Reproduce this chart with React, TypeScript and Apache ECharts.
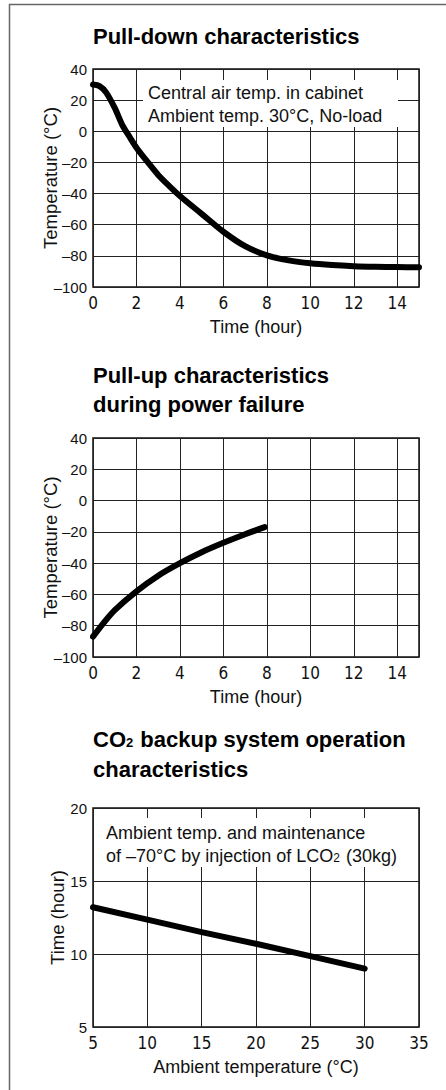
import React, { useEffect, useRef } from "react";
import * as echarts from "echarts";

// Chart 1: pull-down characteristics
const pullDownTime = [0, 0.3, 0.6, 1.0, 1.35, 1.7, 2, 2.5, 3, 3.5, 4, 5, 6, 7, 8, 9, 10, 11, 12, 13, 14, 15];
const pullDownTemp = [30, 29, 25, 15, 4, -4, -10.5, -19.5, -28, -35, -41.5, -53, -64.5, -73.8, -79.7, -82.9, -84.8, -85.9, -86.6, -87, -87.2, -87.3];

// Chart 2: pull-up during power failure
const pullUpTime = [0, 0.5, 1, 2, 3, 4, 5, 6, 7, 7.9];
const pullUpTemp = [-87, -78, -70, -58, -48, -40, -33, -27, -21.5, -17];

// Chart 3: CO2 backup
const ambientTemp = [5, 10, 15, 20, 25, 30];
const holdTime = [13.2, 12.35, 11.5, 10.7, 9.85, 9.0];

const titles = [
  "Pull-down characteristics",
  "Pull-up characteristics\nduring power failure",
  "{b|CO}{s|2}{b| backup system operation}\n{b|characteristics}",
];
const noteLines1 = "Central air temp. in cabinet\nAmbient temp. 30°C, No-load";
const noteLines3 = "Ambient temp. and maintenance\nof –70°C by injection of LCO{s|2} (30kg)";

const REG = '"Liberation Sans", Arial, Helvetica, sans-serif';
const NARROW = '"Liberation Sans Narrow", "DejaVu Sans Condensed", "Liberation Sans", Arial, sans-serif';
const INK = "#111";

const dashFmt = (v: number) => (v < 0 ? "–" + Math.abs(v) : String(v));

function xAxisCfg(gridIndex: number, min: number, max: number, interval: number, name: string) {
  return {
    gridIndex,
    type: "value",
    min,
    max,
    interval,
    name,
    nameLocation: "middle",
    nameGap: 31,
    nameMoveOverlap: false,
    nameTextStyle: { fontFamily: REG, fontSize: 18, color: INK },
    axisLine: { show: false },
    axisTick: { show: false },
    splitLine: { show: true, lineStyle: { color: "#222", width: 1 } },
    axisLabel: {
      margin: 7,
      fontFamily: NARROW,
      fontSize: 17,
      color: INK,
      showMaxLabel: max % interval === 0,
      showMinLabel: true,
    },
  };
}

function yAxisCfg(gridIndex: number, min: number, max: number, interval: number, name: string, gap: number) {
  return {
    gridIndex,
    type: "value",
    min,
    max,
    interval,
    name,
    nameLocation: "middle",
    nameRotate: 90,
    nameGap: gap,
    nameMoveOverlap: false,
    nameTextStyle: { fontFamily: REG, fontSize: 18.5, color: INK },
    axisLine: { show: false },
    axisTick: { show: false },
    splitLine: { show: true, lineStyle: { color: "#222", width: 1 } },
    axisLabel: { margin: 6, fontFamily: REG, fontSize: 15, color: INK, formatter: dashFmt },
  };
}

const gridBase = { left: 93, width: 326, show: true, borderColor: "#111", borderWidth: 1.5, containLabel: false };

export default function App() {
  const ref = useRef<HTMLDivElement>(null);
  useEffect(() => {
    if (!ref.current) return;
    const chart = echarts.init(ref.current, undefined, { renderer: "svg" });
    const lineSeries = (idx: number, xs: number[], ys: number[], smooth: number | boolean) => ({
      type: "line",
      xAxisIndex: idx,
      yAxisIndex: idx,
      data: xs.map((x, i) => [x, ys[i]]),
      smooth,
      showSymbol: false,
      symbol: "none",
      lineStyle: { color: "#000", width: 6, cap: "round", join: "round" },
      z: 5,
    });
    const titleStyle = {
      fontFamily: REG,
      fontWeight: "bold",
      fontSize: 22,
      color: "#000",
      lineHeight: 29,
    };
    chart.setOption({
      animation: false,
      backgroundColor: "#fff",
      title: [
        { text: titles[0], left: 93, top: 25, padding: 0, textStyle: { ...titleStyle, lineHeight: 22 } },
        { text: titles[1], left: 93, top: 361, padding: 0, textStyle: titleStyle },
        {
          text: titles[2],
          left: 93,
          top: 724,
          padding: 0,
          textStyle: {
            ...titleStyle,
            lineHeight: 30,
            rich: {
              b: { fontFamily: REG, fontWeight: "bold", fontSize: 22, color: "#000", lineHeight: 30 },
              s: { fontFamily: REG, fontWeight: "bold", fontSize: 13, color: "#000", lineHeight: 30, padding: [6, 1, 0, 0] },
            },
          },
        },
      ],
      grid: [
        { ...gridBase, top: 69, height: 218 },
        { ...gridBase, top: 438, height: 219 },
        { ...gridBase, top: 808, height: 219 },
      ],
      xAxis: [
        xAxisCfg(0, 0, 15, 2, "Time (hour)"),
        xAxisCfg(1, 0, 15, 2, "Time (hour)"),
        xAxisCfg(2, 5, 35, 5, "Ambient temperature (°C)"),
      ],
      yAxis: [
        yAxisCfg(0, -100, 40, 20, "Temperature (°C)", 33),
        yAxisCfg(1, -100, 40, 20, "Temperature (°C)", 33),
        yAxisCfg(2, 5, 20, 5, "Time (hour)", 26),
      ],
      series: [
        lineSeries(0, pullDownTime, pullDownTemp, 0.3),
        lineSeries(1, pullUpTime, pullUpTemp, 0.3),
        lineSeries(2, ambientTemp, holdTime, false),
      ],
      graphic: [
        {
          type: "polyline",
          z: 10,
          shape: { points: [[9.5, 1090], [9.5, 4.5], [446, 4.5]] },
          style: { fill: "none", stroke: "#666", lineWidth: 1.5 },
        },
        {
          type: "rect",
          z: 10,
          shape: { x: 143, y: 80, width: 255, height: 47 },
          style: { fill: "#fff" },
        },
        {
          type: "text",
          z: 11,
          x: 148,
          y: 81,
          style: {
            text: noteLines1,
            fontFamily: REG,
            fontSize: 18,
            lineHeight: 23,
            fill: INK,
            verticalAlign: "top",
          },
        },
        {
          type: "rect",
          z: 10,
          shape: { x: 97, y: 818, width: 318, height: 49 },
          style: { fill: "#fff" },
        },
        {
          type: "text",
          z: 11,
          x: 106,
          y: 821,
          style: {
            text: noteLines3,
            fontFamily: REG,
            fontSize: 18,
            lineHeight: 23,
            fill: INK,
            verticalAlign: "top",
            rich: {
              s: { fontFamily: REG, fontSize: 12, fill: INK, lineHeight: 23, padding: [5, 1, 0, 0] },
            },
          },
        },
      ],
    });
    return () => chart.dispose();
  }, []);
  return (
    <div
      ref={ref}
      style={{ position: "absolute", left: 0, top: 0, width: 446, height: 1090, background: "#fff" }}
    />
  );
}
